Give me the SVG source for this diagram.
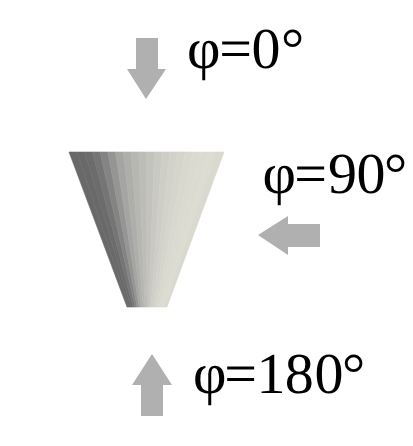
<svg xmlns="http://www.w3.org/2000/svg" width="413" height="446" viewBox="0 0 413 446">
<defs><filter id="soft" x="-5%" y="-5%" width="110%" height="110%"><feGaussianBlur stdDeviation="0.5"/></filter></defs>
<style>
.lbl{font-family:"Liberation Serif","Times New Roman",serif;font-size:58px;fill:#000;text-rendering:geometricPrecision}
.arr{fill:#b0b0b0}
.s{stroke-width:.6}
</style>
<rect width="413" height="446" fill="#fff"/>
<g id="cone" filter="url(#soft)">
<polygon class="s" points="69,152 76.8,152 129,307 127,307" fill="#69696a" stroke="#69696a"/>
<polygon class="s" points="76.8,152 84.5,152 131,307 129,307" fill="#69696a" stroke="#69696a"/>
<polygon class="s" points="84.5,152 92.3,152 133,307 131,307" fill="#6c6c6d" stroke="#6c6c6d"/>
<polygon class="s" points="92.3,152 100,152 135,307 133,307" fill="#757576" stroke="#757576"/>
<polygon class="s" points="100,152 107.8,152 137,307 135,307" fill="#848484" stroke="#848484"/>
<polygon class="s" points="107.8,152 115.5,152 139,307 137,307" fill="#959594" stroke="#959594"/>
<polygon class="s" points="115.5,152 123.3,152 141,307 139,307" fill="#a5a5a3" stroke="#a5a5a3"/>
<polygon class="s" points="123.3,152 131,152 143,307 141,307" fill="#aeaeab" stroke="#aeaeab"/>
<polygon class="s" points="131,152 138.8,152 145,307 143,307" fill="#b6b6b2" stroke="#b6b6b2"/>
<polygon class="s" points="138.8,152 146.5,152 147,307 145,307" fill="#bdbdb8" stroke="#bdbdb8"/>
<polygon class="s" points="146.5,152 154.3,152 149,307 147,307" fill="#c3c3bd" stroke="#c3c3bd"/>
<polygon class="s" points="154.3,152 162,152 151,307 149,307" fill="#c9c9c2" stroke="#c9c9c2"/>
<polygon class="s" points="162,152 169.8,152 153,307 151,307" fill="#cecec6" stroke="#cecec6"/>
<polygon class="s" points="169.8,152 177.5,152 155,307 153,307" fill="#d2d2ca" stroke="#d2d2ca"/>
<polygon class="s" points="177.5,152 185.3,152 157,307 155,307" fill="#d5d5cc" stroke="#d5d5cc"/>
<polygon class="s" points="185.3,152 193,152 159,307 157,307" fill="#d8d8cf" stroke="#d8d8cf"/>
<polygon class="s" points="193,152 200.8,152 161,307 159,307" fill="#dadad1" stroke="#dadad1"/>
<polygon class="s" points="200.8,152 208.5,152 163,307 161,307" fill="#dbdbd2" stroke="#dbdbd2"/>
<polygon class="s" points="208.5,152 216.3,152 165,307 163,307" fill="#dcdcd3" stroke="#dcdcd3"/>
<polygon class="s" points="216.3,152 224,152 167,307 165,307" fill="#d9d9d0" stroke="#d9d9d0"/>
</g>
<g id="connectors">
<polygon class="arr" points="136,38 158,38 158,69 166,69 146,99 127,69 136,69"/>
<polygon class="arr" points="320,224 320,247 288,247 288,255 258,235 288,216 288,224"/>
<polygon class="arr" points="141,416 163,416 163,385 172,385 152,354 132,385 141,385"/>
</g>
<g id="label-0"><text class="lbl" x="187 219.3 251.6 281" y="68">φ=0°</text></g>
<g id="label-90"><text class="lbl" x="262.5 294.3 328 356.5 384" y="193">φ=90°</text></g>
<g id="label-180"><text class="lbl" x="193 224.3 256.6 284.8 314.6 342" y="393">φ=180°</text></g>
</svg>
